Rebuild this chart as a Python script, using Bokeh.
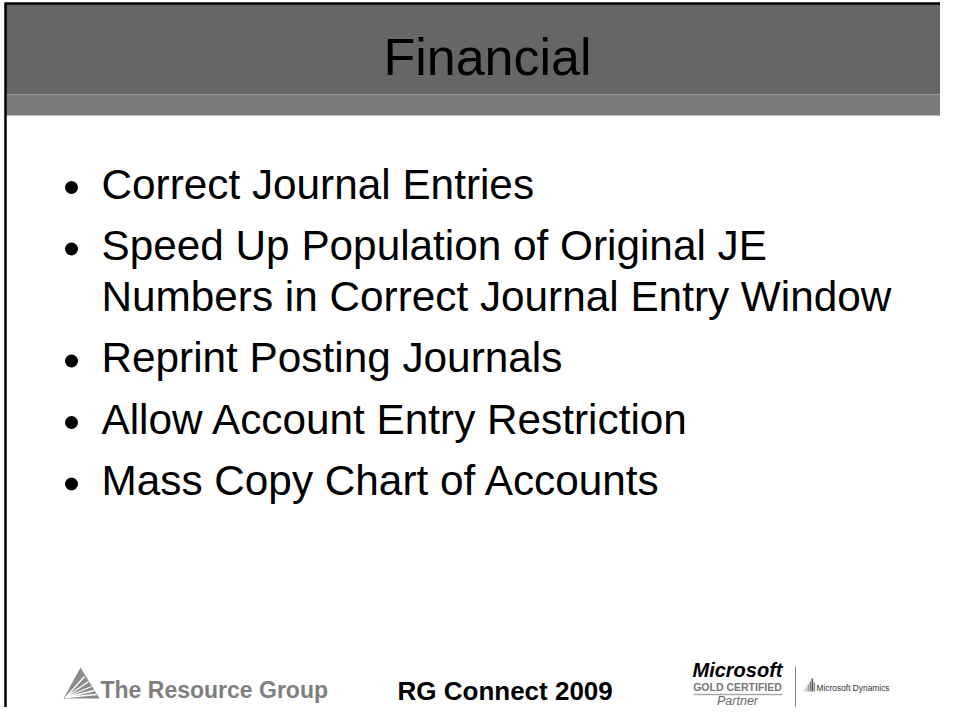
from bokeh.plotting import figure
from bokeh.models import Range1d, ColumnDataSource
from bokeh.core.properties import value
from bokeh.embed import file_html
from bokeh.resources import INLINE

# ---- content ----
title_text = "Financial"
bullet_items = [
    ["Correct Journal Entries"],
    ["Speed Up Population of Original JE", "Numbers in Correct Journal Entry Window"],
    ["Reprint Posting Journals"],
    ["Allow Account Entry Restriction"],
    ["Mass Copy Chart of Accounts"],
]
footer_center = "RG Connect 2009"
logo_left = "The Resource Group"
ms_word = "Microsoft"
ms_gold = "GOLD CERTIFIED"
ms_partner = "Partner"
dyn_text = "Microsoft Dynamics"

FONT = value("Liberation Sans")
BASE_K = 0.38  # correction: rendered alphabetic baseline sits lower by ~0.38 em


def yb(baseline, size):
    return baseline - BASE_K * size


W, H = 940, 707
p = figure(width=W, height=H, output_backend="svg", toolbar_location=None,
           x_range=Range1d(0, W), y_range=Range1d(H, 0),
           x_axis_type=None, y_axis_type=None, min_border=0)
p.grid.visible = False
p.outline_line_color = None
p.background_fill_color = "white"
p.border_fill_color = "white"

# header
p.quad(left=[5], right=[960], top=[3], bottom=[94], fill_color="#666666", line_color=None)
p.quad(left=[5], right=[960], top=[94], bottom=[115], fill_color="#7b7b7b", line_color=None)
# frame lines
p.segment(x0=[5], y0=[3], x1=[5], y1=[720], line_color="black", line_width=2.5)
p.segment(x0=[4], y0=[3], x1=[960], y1=[3], line_color="black", line_width=2.5)

TS = 52
p.text(x=[487], y=[yb(76, TS)], text=[title_text], text_font=FONT, text_font_size=f"{TS}px",
       text_align="center", text_baseline="alphabetic", text_color="black")

# bullets
BS = 42.3
first_baseline = 200
para_step = 61.5
wrap_step = 50.5
xs, ys, txt, bx, by = [], [], [], [], []
y = first_baseline
for i, item in enumerate(bullet_items):
    if i > 0:
        y += para_step
    bx.append(71)
    by.append(y - 13)
    for j, line in enumerate(item):
        if j > 0:
            y += wrap_step
        xs.append(101)
        ys.append(yb(y, BS))
        txt.append(line)

src = ColumnDataSource(dict(x=xs, y=ys, text=txt))
p.text(x="x", y="y", text="text", source=src, text_font=FONT, text_font_size=f"{BS}px",
       text_align="left", text_baseline="alphabetic", text_color="black")
p.scatter(x=bx, y=by, size=13, marker="circle", fill_color="black", line_color=None)

# footer: The Resource Group logo
p.patch(x=[63, 80, 99], y=[698, 667, 698], fill_color="#8c8c8c", line_color=None)
ray_end_x = [84, 88, 91, 94, 96]
ray_end_y = [676, 681, 686, 690, 694]
p.segment(x0=[65] * 5, y0=[697] * 5, x1=ray_end_x, y1=ray_end_y,
          line_color="white", line_width=1.3)
LS = 23
p.text(x=[100], y=[yb(698, LS)], text=[logo_left], text_font=FONT, text_font_size=f"{LS}px",
       text_font_style="bold", text_align="left", text_baseline="alphabetic",
       text_color="#7f7f7f")

# footer center
CS = 26
p.text(x=[397], y=[yb(700, CS)], text=[footer_center], text_font=FONT,
       text_font_size=f"{CS}px", text_font_style="bold", text_align="left",
       text_baseline="alphabetic", text_color="black")

# Microsoft gold certified partner
p.text(x=[737], y=[yb(677, 20)], text=[ms_word], text_font=FONT, text_font_size="20px",
       text_font_style="bold italic", text_align="center", text_baseline="alphabetic",
       text_color="black")
p.text(x=[737], y=[yb(690, 10.5)], text=[ms_gold], text_font=FONT, text_font_size="10.5px",
       text_font_style="bold", text_align="center", text_baseline="alphabetic",
       text_color="#777777")
p.segment(x0=[693], y0=[694], x1=[782], y1=[694], line_color="#aaaaaa", line_width=1.5)
p.text(x=[737], y=[yb(705, 12.5)], text=[ms_partner], text_font=FONT, text_font_size="12.5px",
       text_font_style="italic", text_align="center", text_baseline="alphabetic",
       text_color="#666666")
p.segment(x0=[795], y0=[666], x1=[795], y1=[707], line_color="#888888", line_width=1)

# Microsoft Dynamics icon + text
bar_l = [803, 805, 807, 809, 811, 813]
bar_t = [689, 687, 684, 681, 678, 682]
bar_c = ["#d0d0d0", "#bbbbbb", "#a0a0a0", "#808080", "#555555", "#888888"]
p.quad(left=bar_l, right=[b + 1.6 for b in bar_l], top=bar_t, bottom=[691] * 6,
       fill_color=bar_c, line_color=None)
DS = 8.4
p.text(x=[816], y=[yb(691, DS)], text=[dyn_text], text_font=FONT, text_font_size=f"{DS}px",
       text_align="left", text_baseline="alphabetic", text_color="#333333")

open("out.html", "w").write(file_html(p, INLINE))
